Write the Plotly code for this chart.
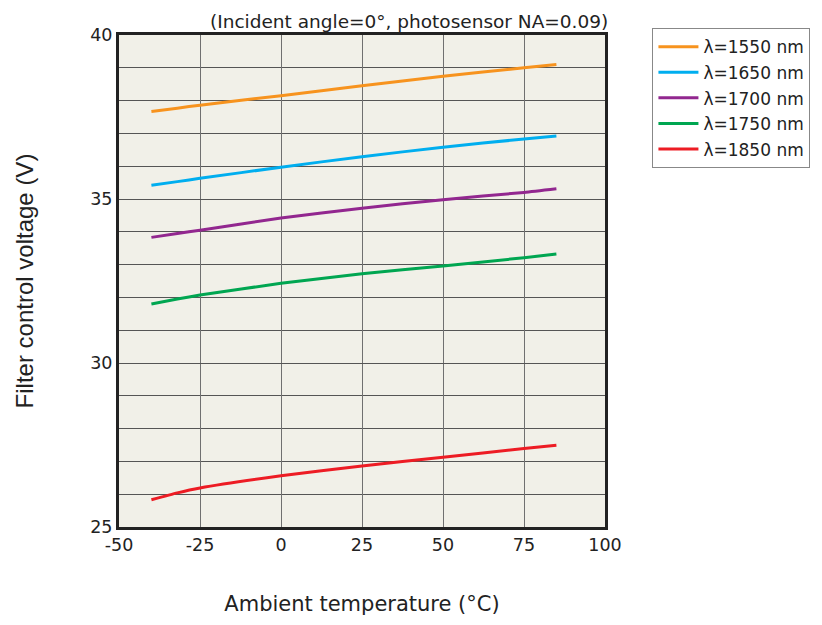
import plotly.graph_objects as go

temps = [-40, -32, -25, 0, 25, 50, 75, 85]
v1550 = [37.67, 37.77, 37.86, 38.15, 38.45, 38.74, 39.0, 39.1]
v1650 = [35.42, 35.53, 35.63, 35.97, 36.29, 36.58, 36.83, 36.92]
v1700 = [33.83, 33.95, 34.05, 34.42, 34.72, 34.98, 35.2, 35.31]
v1750 = [31.8, 31.95, 32.07, 32.43, 32.72, 32.96, 33.21, 33.32]
v1850 = [25.83, 26.04, 26.19, 26.56, 26.86, 27.13, 27.39, 27.49]

names = ["λ=1550 nm", "λ=1650 nm", "λ=1700 nm", "λ=1750 nm", "λ=1850 nm"]
series = [v1550, v1650, v1700, v1750, v1850]
colors = ["#f7931e", "#00aeef", "#92278f", "#00a651", "#ed1c24"]

x_ticks = [-50, -25, 0, 25, 50, 75, 100]
x_ticktext = ["-50", "-25", "0", "25", "50", "75", "100"]
y_ticks = [25, 30, 35, 40]

fig = go.Figure()
for i, (n, s, c) in enumerate(zip(names, series, colors)):
    fig.add_trace(go.Scatter(x=temps, y=s, name=n, mode="lines",
                             line=dict(color=c, width=3, shape="spline", smoothing=0.5),
                             legendgroup=str(i)))

fontv = "DejaVu Sans"
fig.update_layout(
    width=814, height=617,
    margin=dict(l=111, r=211, t=27, b=98),
    paper_bgcolor="white",
    plot_bgcolor="#f1f0e8",
    showlegend=True,
    legend=dict(x=1.0976, y=1.014, xanchor="left", yanchor="top",
                bordercolor="#888888", borderwidth=1, bgcolor="white",
                font=dict(family=fontv, size=17, color="#222"),
                tracegroupgap=0.5, itemwidth=40),
    font=dict(family=fontv, size=17, color="#222"),
)
fig.update_xaxes(range=[-50, 100], tickvals=x_ticks, ticktext=x_ticktext, showgrid=True,
                 gridcolor="#707070", gridwidth=1,
                 showline=True, mirror=True, linecolor="#222", linewidth=3,
                 zeroline=False, ticks="",
                 tickfont=dict(family=fontv, size=17.5, color="#222"),
                 title=dict(text="Ambient temperature (°C)", standoff=43,
                            font=dict(family=fontv, size=21, color="#222")))
fig.update_yaxes(range=[25, 40], tickvals=y_ticks, showgrid=True,
                 gridcolor="#555555", gridwidth=1,
                 minor=dict(dtick=1, showgrid=True, gridcolor="#555555", gridwidth=1),
                 showline=True, mirror=True, linecolor="#222", linewidth=3,
                 zeroline=False, ticks="",
                 tickfont=dict(family=fontv, size=17.5, color="#222"),
                 title=dict(text="Filter control voltage (V)", standoff=50,
                            font=dict(family="Liberation Sans", size=24, color="#222")))
fig.add_annotation(text="(Incident angle=0°, photosensor NA=0.09)",
                   x=1, y=1, xref="paper", yref="paper", xanchor="right", yanchor="bottom",
                   showarrow=False, yshift=1, xshift=5,
                   font=dict(family=fontv, size=18.5, color="#222"))
fig.write_html("out.html")
